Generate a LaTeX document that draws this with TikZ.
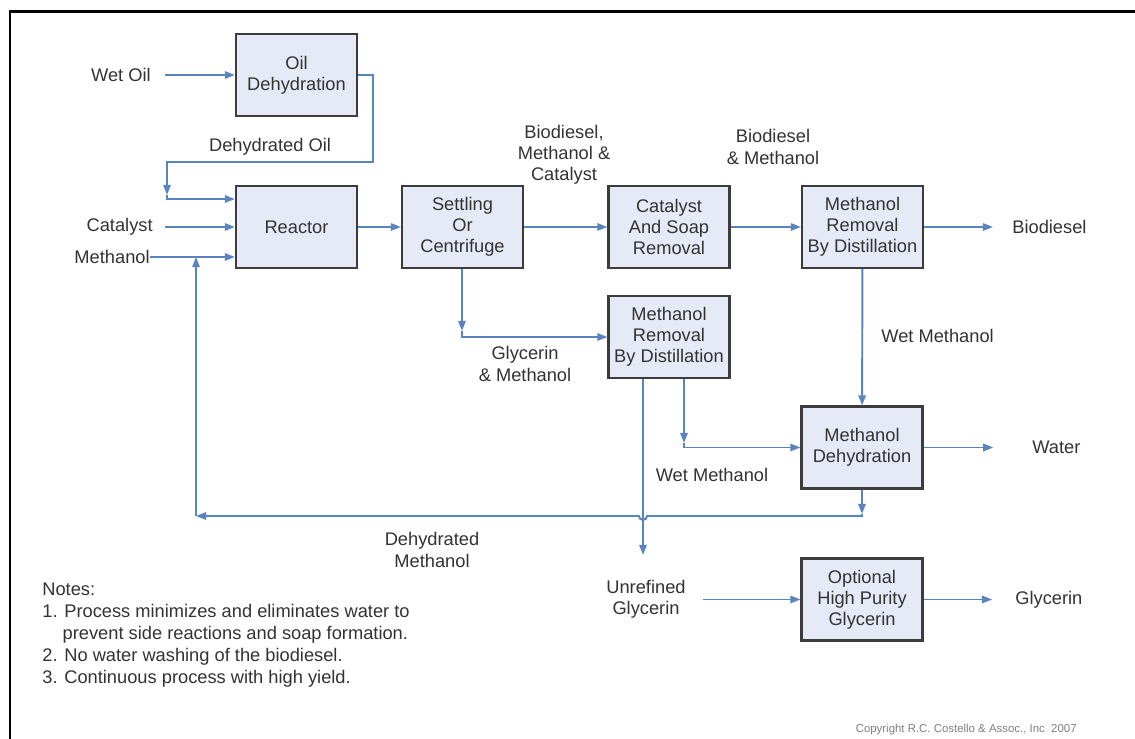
\documentclass[tikz,border=0pt]{standalone}
\usepackage{fontspec}
\setmainfont{Liberation Sans}
\usetikzlibrary{arrows.meta}
\definecolor{flowblue}{HTML}{5A84C0}
\definecolor{boxfill}{HTML}{E6EAF6}
\definecolor{boxline}{HTML}{3C3C3C}
\definecolor{textgrey}{HTML}{333333}
\tikzset{
  unit/.style={draw=boxline, line width=1.2pt, fill=boxfill, minimum width=2.42cm, minimum height=1.64cm, align=center, text=textgrey, inner sep=1pt},
  flow/.style={draw=flowblue, line width=1.1pt, -{Triangle[length=5.8pt,width=4.2pt]}},
  lbl/.style={align=center, text=textgrey, inner sep=0pt}
}
\begin{document}
\begin{tikzpicture}[x=0.02cm, y=-0.02cm, font=\fontsize{10.4}{12}\selectfont]
\useasboundingbox (0,0) rectangle (1135,739);
\fill [white] (0,0) rectangle (1135,739);
\draw [line width=1.7pt] (10,739) -- (10,12) -- (1135,12);

\node [unit] (oildehy) at (296.5,75) {Oil\\Dehydration};
\node [unit] (reactor) at (296.5,227) {Reactor};
\node [unit] (settling) at (462.5,227) {Settling\\Or\\Centrifuge};
\node [unit] (soap) at (669,227) {Catalyst\\And Soap\\Removal};
\node [unit] (mrem1) at (862.5,227) {Methanol\\Removal\\By Distillation};
\node [unit] (mrem2) at (669,337) {Methanol\\Removal\\By Distillation};
\node [unit] (mdehy) at (862,447.5) {Methanol\\Dehydration};
\node [unit] (glyc) at (862,599.5) {Optional\\High Purity\\Glycerin};

\node [lbl, anchor=east] (wetoil) at (151,75) {Wet Oil};
\node [lbl, anchor=east] (catalyst) at (153,227) {Catalyst};
\node [lbl, anchor=east] (methanol) at (150,257) {Methanol};
\node [lbl] (dehyoil) at (270,147) {Dehydrated Oil};
\node [lbl] (bmc) at (564,155) {Biodiesel,\\Methanol \&\\Catalyst};
\node [lbl] (bm) at (773,147) {Biodiesel\\\& Methanol};
\node [lbl, anchor=west] (biodiesel) at (1012,227) {Biodiesel};
\node [lbl, anchor=west] (wetmeth1) at (881,336) {Wet Methanol};
\node [lbl] (glymeth) at (525,364) {Glycerin\\\& Methanol};
\node [lbl] (wetmeth2) at (712,475) {Wet Methanol};
\node [lbl, anchor=west] (water) at (1032,447.5) {Water};
\node [lbl] (dehymeth) at (432,550) {Dehydrated\\Methanol};
\node [lbl] (unrefined) at (646,599.5) {Unrefined\\Glycerin};
\node [lbl, anchor=west] (glycerin) at (1015,599.5) {Glycerin};
\node [lbl, anchor=north west, align=left, font=\fontsize{10.4}{12.4}\selectfont] (notes) at (42,583) {Notes:\\
1. Process minimizes and eliminates water to\\
\hphantom{1.\ }prevent side reactions and soap formation.\\
2. No water washing of the biodiesel.\\
3. Continuous process with high yield.};
\node [lbl, anchor=east, text=gray, font=\fontsize{6.5}{8}\selectfont] (copyright) at (1077,730) {Copyright R.C. Costello \& Assoc., Inc\ \ 2007};

\coordinate (c1) at (167,195);
\coordinate (c2) at (167,199);
\coordinate (c3) at (462,331);
\coordinate (c4) at (684,443);
\coordinate (c5) at (862,514);
\coordinate (c6) at (196,516);
\coordinate (c7) at (643,555);
\coordinate (hop) at (643,516);

\draw [flow, shorten <=8pt] (wetoil.east) -- (wetoil.east -| oildehy.west);
\draw [flow] (oildehy.east) -| (373,162) -| (c1);
\draw [flow] (c1) -- (c2) -- (c2 -| reactor.west);
\draw [flow, shorten <=7pt] (catalyst.east) -- (catalyst.east -| reactor.west);
\draw [flow] (methanol.east) -- (methanol.east -| reactor.west);
\draw [flow] (reactor) -- (settling);
\draw [flow] (settling) -- (soap);
\draw [flow] (soap) -- (mrem1);
\draw [flow, shorten >=10.8pt] (mrem1.east) -- (mrem1.east -| biodiesel.west);
\draw [flow] (mrem1) -- (mdehy);
\draw [flow] (settling.south -| c3) -- (c3);
\draw [flow] (c3) |- (mrem2.west);
\draw [flow] (mrem2.south -| c4) -- (c4);
\draw [flow] (c4) |- (mdehy.west);
\draw [flow, shorten >=22pt] (mdehy.east) -- (mdehy.east -| water.west);
\draw [flow] (mdehy.south) -- (c5);
\draw [flow] (c5) |- (647,516) arc (0:180:4) -- (c6);
\draw [flow] (c6) -- (methanol.east -| c6);
\draw [flow] (mrem2.south -| c7) -- (c7);
\draw [flow, shorten <=9.6pt] (unrefined.east) -- (unrefined.east -| glyc.west);
\draw [flow, shorten >=13pt] (glyc.east) -- (glyc.east -| glycerin.west);
\end{tikzpicture}
\end{document}
